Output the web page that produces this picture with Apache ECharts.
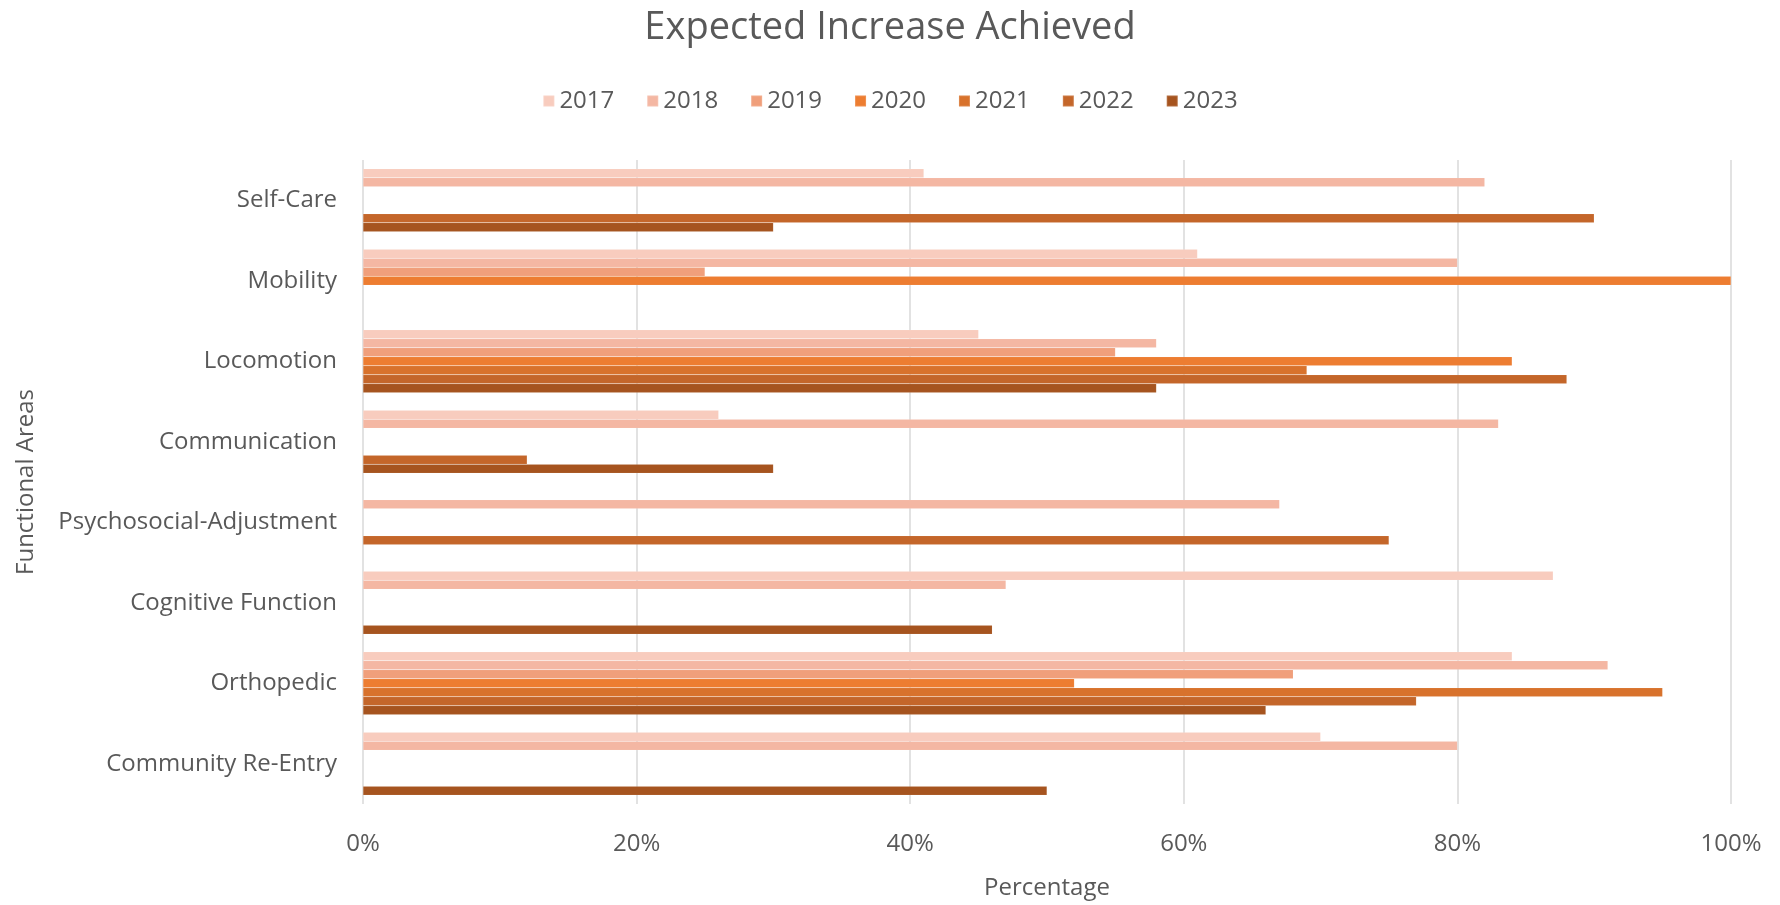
<!DOCTYPE html>
<html>
<head>
<meta charset="utf-8">
<script src="https://cdn.jsdelivr.net/npm/echarts@6/dist/echarts.min.js"></script>
<style>
  html, body { margin: 0; padding: 0; background: #fff; }
  #chart { width: 1780px; height: 905px; }
</style>
</head>
<body>
<div id="chart"></div>
<script>
// Functional areas, listed top to bottom
const areas = ['Self-Care', 'Mobility', 'Locomotion', 'Communication',
  'Psychosocial-Adjustment', 'Cognitive Function', 'Orthopedic', 'Community Re-Entry'];

const years = ['2017', '2018', '2019', '2020', '2021', '2022', '2023'];

// Share of expected increase achieved (%), null = no result that year
const y2017 = [41, 61, 45, 26, null, 87, 84, 70];
const y2018 = [82, 80, 58, 83, 67, 47, 91, 80];
const y2019 = [null, 25, 55, null, null, null, 68, null];
const y2020 = [null, 100, 84, null, null, null, 52, null];
const y2021 = [null, null, 69, null, null, null, 95, null];
const y2022 = [90, null, 88, 12, 75, null, 77, null];
const y2023 = [30, null, 58, 30, null, 46, 66, 50];

const xTicks = [0, 20, 40, 60, 80, 100];

const yearValues = [y2017, y2018, y2019, y2020, y2021, y2022, y2023];
const colors = ['#F8CCBE', '#F4B7A3', '#F09F7B', '#ED7D31', '#D8722C', '#C4662A', '#A6541F'];

const font = '"Open Sans", "Noto Sans", sans-serif';
const grey = '#595959';

const chart = echarts.init(document.getElementById('chart'));
chart.setOption({
  animation: false,
  color: colors,
  title: {
    text: 'Expected Increase Achieved',
    left: 'center',
    top: 4,
    textStyle: { fontFamily: font, fontSize: 38, fontWeight: 'normal', color: grey }
  },
  legend: {
    data: years,
    top: 84,
    left: 'center',
    icon: 'rect',
    itemWidth: 11,
    itemHeight: 11,
    itemGap: 32,
    textStyle: { fontFamily: font, fontSize: 24, color: grey }
  },
  grid: { left: 363, right: 49, top: 160, bottom: 101, containLabel: false },
  xAxis: {
    type: 'value',
    min: xTicks[0],
    max: xTicks[xTicks.length - 1],
    interval: 20,
    name: 'Percentage',
    nameLocation: 'middle',
    nameGap: 72,
    nameTextStyle: { fontFamily: font, fontSize: 24, color: grey },
    axisLine: { show: false },
    axisTick: { show: false },
    axisLabel: { formatter: '{value}%', margin: 28, fontFamily: font, fontSize: 24, color: grey },
    splitLine: { lineStyle: { color: '#D9D9D9', width: 1.5 } }
  },
  yAxis: {
    type: 'category',
    data: areas,
    inverse: true,
    name: 'Functional Areas',
    nameLocation: 'middle',
    nameRotate: 90,
    nameGap: 325,
    nameTextStyle: { fontFamily: font, fontSize: 24, color: grey },
    axisLine: { show: false },
    axisTick: { show: false },
    axisLabel: { margin: 26, fontFamily: font, fontSize: 24, color: grey }
  },
  series: years.map((yr, i) => ({
    name: yr,
    type: 'bar',
    data: yearValues[i],
    barGap: '0%',
    barCategoryGap: '22%',
    itemStyle: { borderColor: 'rgba(255,255,255,0.15)', borderWidth: 0.5 }
  }))
});
</script>
</body>
</html>
